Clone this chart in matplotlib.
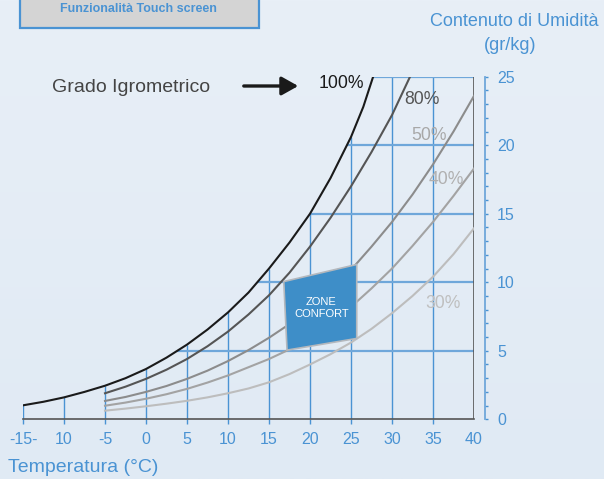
import numpy as np
import matplotlib
matplotlib.use("Agg")
import matplotlib.pyplot as plt
from matplotlib.patches import Polygon, Rectangle

# =========================
# DATI
# =========================
temp_100 = [-15, -12.5, -10, -7.5, -5, -2.5, 0, 2.5, 5, 7.5, 10, 12.5, 15, 17.5, 20, 22.5, 25, 26.5, 27.7]
umid_100 = [1.02, 1.28, 1.6, 2.0, 2.45, 3.0, 3.67, 4.5, 5.45, 6.55, 7.8, 9.25, 11.0, 12.9, 15.0, 17.6, 20.6, 22.8, 25.0]

temp_80 = [-5, -2.5, 0, 2.5, 5, 7.5, 10, 12.5, 15, 17.5, 20, 22.5, 25, 27.5, 30, 32.2]
umid_80 = [1.90, 2.38, 2.95, 3.62, 4.4, 5.33, 6.4, 7.65, 9.05, 10.7, 12.6, 14.7, 17.0, 19.5, 22.2, 25.0]

temp_rh = [-5, -2.5, 0, 2.5, 5, 7.5, 10, 12.5, 15, 17.5, 20, 22.5, 25, 27.5, 30, 32.5, 35, 37.5, 40]
umid_50 = [1.34, 1.63, 2.0, 2.43, 2.95, 3.55, 4.25, 5.05, 5.95, 6.95, 8.1, 9.4, 10.9, 12.6, 14.4, 16.4, 18.6, 21.0, 23.6]
umid_40 = [0.99, 1.22, 1.5, 1.83, 2.22, 2.68, 3.2, 3.8, 4.4, 5.1, 5.95, 6.95, 8.2, 9.55, 11.0, 12.65, 14.4, 16.3, 18.3]
umid_30 = [0.63, 0.78, 0.95, 1.14, 1.35, 1.6, 1.9, 2.25, 2.7, 3.3, 4.0, 4.75, 5.6, 6.6, 7.74, 9.0, 10.4, 12.05, 13.94]

# zona di comfort (temperatura, umidità)
zona_temp = [16.8, 25.7, 25.7, 17.2]
zona_umid = [10.05, 11.3, 5.9, 5.05]

x_ticks = [-15, -10, -5, 0, 5, 10, 15, 20, 25, 30, 35, 40]
x_labels = ["-15-", "10", "-5", "0", "5", "10", "15", "20", "25", "30", "35", "40"]
y_ticks = [0, 5, 10, 15, 20, 25]

# =========================
# STILE
# =========================
W, H = 604, 479
BLU = "#4a93d3"
GRIGIO_ASSE = "#555555"
plt.rcParams["font.family"] = ["Liberation Sans", "DejaVu Sans"]


def fx(px):
    return px / W


def fy(py):
    return 1 - py / H


fig = plt.figure(figsize=(W / 100, H / 100), dpi=100)

# sfondo sfumato
bg = fig.add_axes([0, 0, 1, 1], zorder=-10)
grad = np.linspace(0, 1, 256).reshape(-1, 1)
top_c = np.array([0xe8, 0xef, 0xf7]) / 255
bot_c = np.array([0xe0, 0xea, 0xf4]) / 255
img = top_c + (bot_c - top_c) * grad[:, :, None]
bg.imshow(img, aspect="auto", extent=[0, 1, 0, 1])
bg.axis("off")

ax = fig.add_axes([fx(23), fy(419.3), (474 - 23) / W, (419.3 - 76.7) / H])
ax.set_xlim(-15, 40)
ax.set_ylim(0, 25)
ax.patch.set_alpha(0)

# griglia limitata alla curva di saturazione
for t in x_ticks[:-1]:
    top = min(np.interp(t, temp_100, umid_100), 25)
    ax.vlines(t, 0, top, color=BLU, lw=1.0, zorder=1)
for u in y_ticks[1:]:
    start = np.interp(u, umid_100, temp_100)
    ax.hlines(u, start, 40, color="#6fa7da", lw=1.6, zorder=1)

# cornice
ax.axvline(40, color=GRIGIO_ASSE, lw=1.2, zorder=2)

# curve di umidità relativa
ax.plot(temp_100, umid_100, color="#1a1a1a", lw=1.5, zorder=3)
ax.plot(temp_80, umid_80, color="#555555", lw=1.5, zorder=3)
ax.plot(temp_rh, umid_50, color="#8c8c8c", lw=1.5, zorder=3)
ax.plot(temp_rh, umid_40, color="#a3a3a3", lw=1.5, zorder=3)
ax.plot(temp_rh, umid_30, color="#bdbdbd", lw=1.5, zorder=3)

# zona confort
zona = Polygon(list(zip(zona_temp, zona_umid)), closed=True,
               facecolor="#3e8ec8", edgecolor="#b4b8bd", lw=1.2, zorder=4)
ax.add_patch(zona)
ax.text(np.mean(zona_temp) + 0.05, 8.15, "ZONE\nCONFORT", color="white",
        fontsize=8, ha="center", va="center", linespacing=1.25, zorder=5)

# assi
for s in ["left", "top"]:
    ax.spines[s].set_visible(False)
ax.spines["bottom"].set_color(GRIGIO_ASSE)
ax.spines["bottom"].set_linewidth(1.2)
ax.spines["right"].set_position(("outward", 7.9))
ax.spines["right"].set_color("#6fa7da")
ax.spines["right"].set_linewidth(1.3)

ax.set_xticks(x_ticks)
ax.set_xticklabels(x_labels)
ax.tick_params(axis="x", colors=BLU, length=3.4, width=1.0, pad=6, labelsize=11.5)
ax.xaxis.get_major_ticks()[-1].tick1line.set_visible(False)

ax.yaxis.tick_right()
ax.set_yticks(y_ticks)
ax.set_yticks(range(0, 26), minor=True)
ax.tick_params(axis="y", which="both", colors=BLU, length=2.2, width=1.0,
               direction="out", pad=6.5, labelsize=11.5)

# testi
fig.text(fx(514), fy(21), "Contenuto di Umidità", color=BLU, fontsize=13,
         ha="center", va="center")
fig.text(fx(510), fy(45), "(gr/kg)", color=BLU, fontsize=13,
         ha="center", va="center")
fig.text(fx(8), fy(467), "Temperatura (°C)", color=BLU, fontsize=14,
         ha="left", va="center")
fig.text(fx(52), fy(88), "Grado Igrometrico", color="#444444", fontsize=14,
         ha="left", va="center")

ax.annotate("", xy=(fx(301), fy(86)), xytext=(fx(241), fy(86)),
            xycoords="figure fraction", textcoords="figure fraction",
            arrowprops=dict(arrowstyle="-|>,head_length=0.5,head_width=0.28",
                            color="#1a1a1a", lw=2.4, mutation_scale=20))

etichette = [("100%", 341.7, 83, "#1a1a1a"),
             ("80%", 421.7, 99.5, "#555555"),
             ("50%", 429.2, 136, "#a8a8a8"),
             ("40%", 446.7, 179.5, "#b0b0b0"),
             ("30%", 443.3, 303.3, "#bfbfbf")]
for testo, px, py, col in etichette:
    fig.text(fx(px), fy(py), testo, color=col, fontsize=12.7,
             ha="center", va="center")

# riquadro in alto
fig.patches.append(Rectangle((fx(19.5), fy(28)), (258.5 - 19.5) / W, 40 / H,
                             transform=fig.transFigure, facecolor="#d4d4d4",
                             edgecolor=BLU, lw=1.6, zorder=5))
fig.text(fx(138.5), fy(9), "Funzionalità Touch screen", color=BLU,
         fontsize=9, fontweight="bold", ha="center", va="center", zorder=6)

fig.savefig("out.png", dpi=100, facecolor=fig.get_facecolor())
